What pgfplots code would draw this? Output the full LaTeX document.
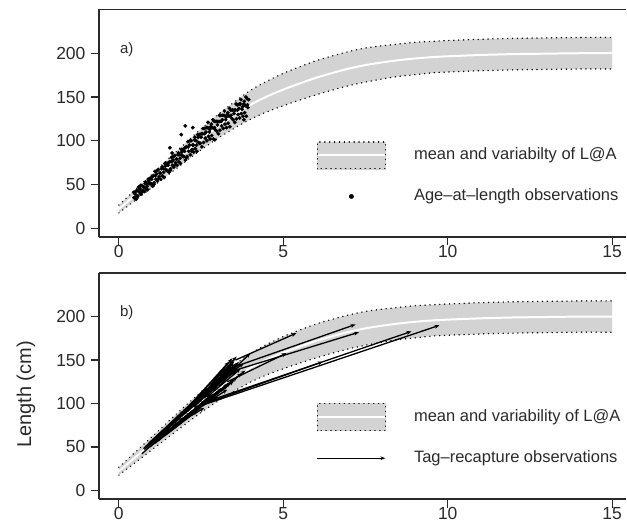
\documentclass[border=0pt]{standalone}
\usepackage{pgfplots}
\pgfplotsset{compat=1.18}
\usepackage{pgfplotstable}
\usepgfplotslibrary{fillbetween}
\usetikzlibrary{arrows.meta}
\usepackage{fontspec}
\setmainfont{Liberation Sans}

\definecolor{bandgray}{HTML}{D3D3D3}
\definecolor{framegray}{HTML}{2A2A2A}

% mean length-at-age with its lower and upper variability limits
\pgfplotstableread{
t    mean   lo     hi
0    22     17.5   26.5
0.5  38     32     44
1    54     46.5   61.5
1.5  70     61     79
2    86     75.5   96.5
2.5  101.5  89.5   113.5
3    116    102.5  129.5
3.5  129    114    144
4    141    124.5  157.5
4.5  150.5  133    168
5    158.5  140    177
5.5  165.5  146.5  184.5
6    172    152.5  191.5
6.5  177.5  158    197
7    182.5  163    202
7.5  186.5  167    206
8    189.5  170.5  208.5
8.5  192    173.5  210.5
9    194    175.5  212.5
9.5  195.5  177.5  213.5
10   196.5  178.5  214.5
11   198    180    216
12   199    181    217
13   199.5  181.5  217.5
14   200    182    218
15   200    182    218
}\growth

% age-at-length observations (age in years, length in cm)
\pgfplotstableread{
t L
0.450 41
0.475 35
0.500 39
0.525 33
0.550 43
0.575 37
0.600 47
0.625 41
0.650 45
0.675 39
0.700 49
0.725 43
0.750 47
0.775 42
0.800 51
0.825 45
0.850 51
0.875 44
0.900 56
0.925 51
0.950 57
0.975 51
1.000 56
1.025 48
1.050 60
1.075 52
1.100 65
1.125 56
1.150 62
1.175 54
1.200 67
1.225 59
1.250 63
1.275 56
1.300 68
1.325 60
1.350 68
1.375 58
1.400 74
1.425 67
1.450 74
1.475 66
1.500 72
1.525 64
1.550 76
1.575 68
1.600 81
1.625 72
1.650 78
1.675 70
1.700 83
1.725 75
1.750 79
1.775 72
1.800 84
1.825 76
1.850 84
1.875 74
1.900 90
1.925 83
1.950 90
1.975 82
2.000 88
2.025 78
2.050 93
2.075 82
2.100 99
2.125 88
2.150 95
2.175 84
2.200 100
2.225 90
2.250 95
2.275 87
2.300 101
2.325 91
2.350 100
2.375 88
2.400 107
2.425 98
2.450 107
2.475 97
2.500 104
2.525 93
2.550 108
2.575 98
2.600 114
2.625 103
2.650 110
2.675 100
2.700 115
2.725 105
2.750 110
2.775 102
2.800 116
2.825 106
2.850 115
2.875 102
2.900 122
2.925 113
2.950 122
2.975 111
3.000 118
3.025 108
3.050 122
3.075 112
3.100 129
3.125 117
3.150 124
3.175 114
3.200 129
3.225 119
3.250 124
3.275 115
3.300 130
3.325 120
3.350 128
3.375 116
3.400 135
3.425 126
3.450 135
3.475 124
3.500 131
3.525 121
3.550 135
3.575 125
3.600 141
3.625 130
3.650 137
3.675 126
3.700 142
3.725 131
3.750 136
3.775 128
3.800 142
3.825 132
3.850 140
3.875 128
3.900 148
3.925 138
3.950 147
0.4625 35
0.5125 42
0.5625 36
0.6125 43
0.6625 49
0.7125 42
0.7625 47
0.8125 53
0.8625 48
0.9125 54
0.9625 51
1.0125 59
1.0625 50
1.1125 60
1.1625 66
1.2125 57
1.2625 63
1.3125 70
1.3625 64
1.4125 71
1.4625 66
1.5125 75
1.5625 66
1.6125 76
1.6625 82
1.7125 73
1.7625 79
1.8125 86
1.8625 80
1.9125 87
1.9625 82
2.0125 92
2.0625 81
2.1125 93
2.1625 100
2.2125 88
2.2625 95
2.3125 104
2.3625 95
2.4125 104
2.4625 97
2.5125 108
2.5625 114
2.6125 108
2.6625 115
2.7125 121
2.7625 113
2.8125 119
2.8625 124
2.9125 115
2.9625 122
3.0125 122
3.0625 129
3.1125 122
3.1625 129
3.2125 134
3.2625 127
3.3125 132
3.3625 137
3.4125 129
3.4625 135
3.5125 135
3.5625 142
3.6125 135
3.6625 142
3.7125 147
3.7625 139
3.8125 145
3.8625 150
3.9125 141
1.55 92
1.62 86
1.90 107
2.02 117
2.25 115
2.92 101
3.80 124
}\agelen

% tag-recapture records: release (t1, L1) and recapture (t2, L2)
\pgfplotstableread{
t1   L1   t2    L2
0.75 48   1.60  76
0.80 50   1.90  88
0.90 54   2.00  92
1.00 55   2.30  100
1.10 60   2.10  95
1.20 62   2.60  112
1.30 66   2.40  104
1.40 68   2.90  122
1.50 72   2.50  108
1.60 75   3.00  128
1.70 78   2.80  118
1.80 82   3.20  135
1.90 85   3.10  128
2.00 88   3.40  143
2.10 91   3.30  138
2.40 104  3.58  154
2.30 96   3.50  148
2.40 100  3.45  145
2.50 104  3.30  132
2.60 106  3.60  146
1.00 52   1.80  78
1.20 57   2.20  88
1.40 63   2.40  92
1.60 69   2.50  96
1.80 75   2.70  104
2.00 82   2.90  110
2.20 88   3.10  116
2.40 94   3.30  120
2.60 100  3.50  126
2.80 106  3.60  130
0.85 50   2.20  90
1.50 66   2.90  110
2.10 85   3.40  124
2.30 90   3.20  118
2.70 108  3.70  140
1.00 57   2.70  118
1.30 64   3.00  125
0.70 42   1.40  66
0.78 47   1.70  79
0.95 50   1.55  70
1.05 58   2.05  92
1.15 56   1.95  84
1.25 64   2.35  101
1.35 62   2.15  88
1.45 71   2.75  117
1.55 69   2.45  98
1.65 77   2.95  124
1.75 76   2.65  104
1.85 84   3.05  128
1.95 83   2.85  110
2.05 90   3.25  134
2.15 89   2.95  112
2.25 96   3.45  141
2.35 95   3.15  118
2.45 102  3.55  146
2.55 101  3.35  123
2.65 108  3.50  150
2.75 106  3.40  124
2.85 114  3.65  148
2.95 112  3.75  135
3.05 120  3.55  140
3.15 117  3.85  138
1.10 54   2.80  110
1.70 72   3.30  122
2.00 92   3.20  140
2.30 104  3.35  148
2.60 112  3.45  152
1.90 80   2.40  92
2.20 86   2.60  95
2.50 96   3.00  108
2.80 104  3.30  116
2.00 84   2.36  92
2.90 120  3.60  138
3.10 128  3.80  146
2.70 110  4.00  158
3.55 150  5.40  181
3.20 138  7.20  191
3.00 132  7.30  182
3.30 125  5.10  158
2.30 95   9.75  190
2.50 100  8.90  183
2.40 97   6.20  148
}\tags

\pgfplotsset{
  panel/.style={
    scale only axis, width=527.76pt,
    xmin=-0.6, xmax=15.427, ymin=-10, ymax=250,
    xtick={0,5,10,15}, ytick={0,50,100,150,200},
    axis x line*=box, axis y line*=left,
    tick pos=left, tick align=outside, major tick length=8.5pt,
    axis line style={line width=1.6pt, framegray},
    major tick style={line width=1.3pt, framegray},
    /pgf/number format/assume math mode=true,
    tick label style={font=\fontsize{17.5}{21}\selectfont, text=framegray},
    yticklabel style={anchor=east, inner sep=0pt, xshift=-5pt},
    xticklabel style={anchor=north, inner sep=0pt, yshift=0.5pt},
    legend cell align=left,
    legend style={anchor=north west, draw=none, fill=none, inner sep=0pt,
      row sep=19.25pt, column sep=28pt,
      font=\fontsize{16.5}{19}\selectfont, text=framegray,
      nodes={inner sep=0pt, text height=12pt, text depth=3.5pt}},
  },
  bandedge/.style={black, line width=1.5pt, line cap=round,
    dash pattern=on 0.1pt off 4.8pt, smooth, forget plot},
  meanline/.style={white, line width=2pt, smooth, forget plot},
  bandimage/.style={legend image code/.code={
      \fill[bandgray] (0pt,-13.5pt) rectangle (68pt,13.5pt);
      \draw[black, line width=1.5pt, line cap=round, dash pattern=on 0.1pt off 4.8pt]
        (0pt,-13.5pt) rectangle (68pt,13.5pt);
      \draw[white, line width=2pt] (0.8pt,0pt) -- (67.2pt,0pt);}},
}

\begin{document}
\begin{tikzpicture}

% a) age-at-length data
\begin{axis}[panel, at={(99.24pt,287.7pt)}, anchor=south west, height=227.8pt,
  legend style={at={(axis cs:6.01,99.9)}}]
  \addplot[draw=none, smooth, name path=hiA, forget plot] table[x=t, y=hi]{\growth};
  \addplot[draw=none, smooth, name path=loA, forget plot] table[x=t, y=lo]{\growth};
  \addplot[bandgray, forget plot] fill between[of=hiA and loA];
  \addplot[bandedge] table[x=t, y=hi]{\growth};
  \addplot[bandedge] table[x=t, y=lo]{\growth};
  \addplot[meanline] table[x=t, y=mean]{\growth};
  \addplot[only marks, mark=*, mark size=1.7pt, black, forget plot] table[x=t, y=L]{\agelen};
  \node[anchor=west, inner sep=0pt, font=\fontsize{15}{18}\selectfont, text=framegray]
    at (axis cs:0.03,204) {a)};
  \addlegendimage{bandimage}
  \addlegendentry{mean and variabilty of L@A}
  \addlegendimage{legend image code/.code={\fill[black] (34pt,0pt) circle (2.2pt);}}
  \addlegendentry{Age--at--length observations}
\end{axis}

% b) tag-recapture data
\begin{axis}[panel, at={(99.24pt,25.3pt)}, anchor=south west, height=226.2pt,
  legend style={at={(axis cs:6.01,101)}}]
  \addplot[draw=none, smooth, name path=hiB, forget plot] table[x=t, y=hi]{\growth};
  \addplot[draw=none, smooth, name path=loB, forget plot] table[x=t, y=lo]{\growth};
  \addplot[bandgray, forget plot] fill between[of=hiB and loB];
  \addplot[bandedge] table[x=t, y=hi]{\growth};
  \addplot[bandedge] table[x=t, y=lo]{\growth};
  \addplot[meanline] table[x=t, y=mean]{\growth};
  \addplot[black, line width=1.3pt, -{Stealth[length=5pt, width=3.8pt]}, forget plot,
    quiver={u=\thisrow{t2}-\thisrow{t1}, v=\thisrow{L2}-\thisrow{L1}}]
    table[x=t1, y=L1]{\tags};
  \node[anchor=west, inner sep=0pt, font=\fontsize{15}{18}\selectfont, text=framegray]
    at (axis cs:0.03,204) {b)};
  \addlegendimage{bandimage}
  \addlegendentry{mean and variability of L@A}
  \addlegendimage{legend image code/.code={
      \draw[black, line width=1.2pt, -{Stealth[length=5pt, width=3.6pt]}] (0pt,0pt) -- (68pt,0pt);}}
  \addlegendentry{Tag--recapture observations}
\end{axis}

\node[rotate=90, font=\fontsize{20}{24}\selectfont, text=framegray] at (26pt,130pt) {Length (cm)};
\path (0pt,0pt) rectangle (627pt,525pt);
\end{tikzpicture}
\end{document}
